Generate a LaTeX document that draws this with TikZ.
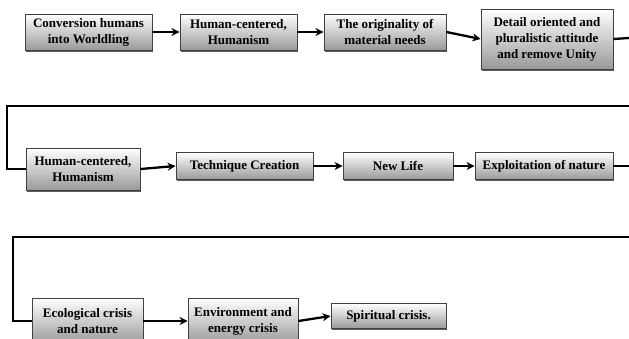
\documentclass[tikz,border=0pt]{standalone}
\usepackage{fontspec}
\setmainfont{Liberation Serif}
\usetikzlibrary{shadows,arrows.meta}

\tikzset{
  stagebox/.style={draw=black!75, line width=0.9pt, top color=white, bottom color=black!40,
    align=center, inner sep=2pt, font=\fontsize{13}{16}\selectfont\bfseries,
    drop shadow={shadow xshift=0.8pt, shadow yshift=-1.6pt, fill=black!70, opacity=0.9}},
  flow/.style={line width=2.3pt, -{Stealth[length=8pt,width=8pt]}},
  wire/.style={line width=2.3pt}
}

\begin{document}
\begin{tikzpicture}[x=1pt,y=-1pt]
\useasboundingbox (0,0) rectangle (629,338);
\clip (0,0) rectangle (629,338);

% first row
\node[stagebox, minimum width=127pt, minimum height=36pt] (conversion) at (88.5,32) {Conversion humans\\into Worldling};
\node[stagebox, minimum width=117pt, minimum height=36pt] (humancentered) at (238.5,32) {Human-centered,\\Humanism};
\node[stagebox, minimum width=122pt, minimum height=36pt] (originality) at (385,32) {The originality of\\material needs};
\node[stagebox, minimum width=132pt, minimum height=60pt] (detail) at (547,39) {Detail oriented and\\pluralistic attitude\\and remove Unity};
\draw[flow] (conversion.east) -- (humancentered.west);
\draw[flow] (humancentered.east) -- (originality.west);
\draw[flow] (originality.east) -- (detail.west);
\coordinate (outa) at (629,38);
\draw[wire] (detail.east) -- (outa);

% second row
\node[stagebox, minimum width=114pt, minimum height=42pt] (humancenteredb) at (83,169) {Human-centered,\\Humanism};
\node[stagebox, minimum width=137pt, minimum height=27pt] (technique) at (244.5,166) {Technique Creation};
\node[stagebox, minimum width=110pt, minimum height=27pt] (newlife) at (398,166) {New Life};
\node[stagebox, minimum width=138pt, minimum height=27pt] (exploitation) at (544,166) {Exploitation of nature};
\coordinate (ina) at (629,106);
\coordinate (benda) at (7,106);
\draw[wire] (ina) -- (benda) |- (humancenteredb.west);
\draw[flow] (humancenteredb.east) -- (technique.west);
\draw[flow] (technique.east) -- (newlife.west);
\draw[flow] (newlife.east) -- (exploitation.west);
\coordinate (outb) at (629,166);
\draw[wire] (exploitation.east) -- (outb);

% third row
\node[stagebox, minimum width=111pt, minimum height=46pt] (ecological) at (87.5,321) {Ecological crisis\\and nature};
\node[stagebox, minimum width=110pt, minimum height=46pt] (environment) at (243,321) {Environment and\\energy crisis};
\node[stagebox, minimum width=115pt, minimum height=25pt] (spiritual) at (388.5,316) {Spiritual crisis.};
\coordinate (inb) at (629,237);
\coordinate (bendb) at (13,237);
\draw[wire] (inb) -- (bendb) |- (ecological.west);
\draw[flow] (ecological.east) -- (environment.west);
\draw[flow] (environment.east) -- (spiritual.west);
\end{tikzpicture}
\end{document}
